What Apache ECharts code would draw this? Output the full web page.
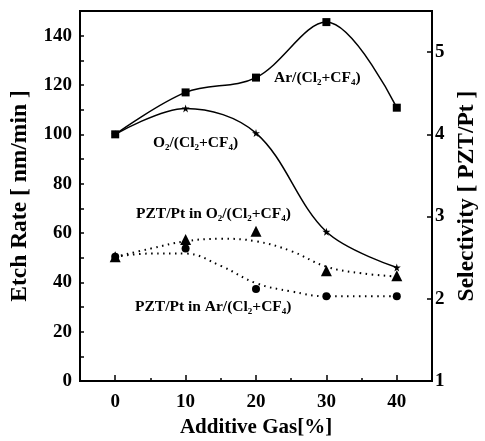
<!DOCTYPE html>
<html><head><meta charset="utf-8">
<script src="https://cdn.jsdelivr.net/npm/echarts@6/dist/echarts.min.js"></script>
<style>html,body{margin:0;padding:0;background:#fff}#c{width:485px;height:441px}</style>
</head><body><div id="c"></div>
<script>
// ---- data ----
const gas = [0, 10, 20, 30, 40];
const etchAr = [100, 117, 123, 145.5, 110.8];
const etchO2 = [100, 110.5, 100.5, 60.5, 46];
const selO2 = [2.51, 2.72, 2.82, 2.34, 2.28];
const selAr = [2.51, 2.61, 2.12, 2.03, 2.03];
// dotted trend curves
const fitGas = [0, 5, 10, 15, 20, 25, 30, 35, 40];
const fitSelO2 = [2.51, 2.61, 2.70, 2.73, 2.70, 2.58, 2.39, 2.31, 2.27];
const fitSelAr = [2.51, 2.55, 2.55, 2.40, 2.19, 2.09, 2.03, 2.03, 2.03];
const xTickLabels = [0, 10, 20, 30, 40];
const xMinorTicks = [5, 15, 25, 35];
const leftTickLabels = [0, 20, 40, 60, 80, 100, 120, 140];
const rightTickLabels = [1, 2, 3, 4, 5];

const pairs = (xs, ys) => xs.map((x, i) => [x, ys[i]]);
const FONT = '"Liberation Serif", "DejaVu Serif", serif';
const star = 'path://M50,0 L61,35 L98,35 L68,57 L79,91 L50,70 L21,91 L32,57 L2,35 L39,35 Z';

const chart = echarts.init(document.getElementById('c'), null, {renderer: 'canvas'});
const axisLabelStyle = {color: '#000', fontFamily: FONT, fontWeight: 'bold', fontSize: 19};
const rich = {
  b: {fontFamily: FONT, fontWeight: 'bold', fontSize: 15.5, color: '#000'},
  s: {fontFamily: FONT, fontWeight: 'bold', fontSize: 9, color: '#000', padding: [9, 0, 0, 0]}
};
function lbl(x, y, text) {
  return {type: 'text', left: x, top: y, style: {rich: rich, text: text}};
}
chart.setOption({
  animation: false,
  backgroundColor: '#fff',
  grid: {left: 80, right: 53, top: 11, bottom: 60, containLabel: false, outerBoundsMode: 'none',
         show: true, borderColor: '#000', borderWidth: 2},
  xAxis: [{
    type: 'value', min: -5, max: 45, interval: 5,
    name: 'Additive Gas[%]', nameLocation: 'middle', nameGap: 34,
    nameTextStyle: {color: '#000', fontFamily: FONT, fontWeight: 'bold', fontSize: 21},
    axisLine: {onZero: false, lineStyle: {color: '#000', width: 2}},
    axisTick: {inside: true, length: 6, lineStyle: {color: '#000', width: 1.5}, customValues: xTickLabels},
    axisLabel: Object.assign({margin: 12, customValues: xTickLabels}, axisLabelStyle),
    splitLine: {show: false}
  }, {
    type: 'value', min: -5, max: 45, interval: 5, position: 'bottom',
    axisLine: {show: false, onZero: false},
    axisTick: {inside: true, length: 3, lineStyle: {color: '#000', width: 1.5}, customValues: xMinorTicks},
    axisLabel: {show: false}, splitLine: {show: false}
  }],
  yAxis: [{
    type: 'value', min: 0, max: 150, interval: 10, position: 'left',
    name: 'Etch Rate [ nm/min ]', nameLocation: 'middle', nameGap: 48,
    nameTextStyle: {color: '#000', fontFamily: FONT, fontWeight: 'bold', fontSize: 23.5},
    axisLine: {show: true, onZero: false, lineStyle: {color: '#000', width: 2}},
    axisTick: {inside: true, length: 4, lineStyle: {color: '#000', width: 1.5}},
    axisLabel: Object.assign({margin: 8, customValues: leftTickLabels}, axisLabelStyle),
    splitLine: {show: false}
  }, {
    type: 'value', min: 1, max: 5.5, interval: 0.5, position: 'right',
    name: 'Selectivity [ PZT/Pt ]', nameLocation: 'middle', nameGap: 23, nameRotate: 90,
    nameTextStyle: {color: '#000', fontFamily: FONT, fontWeight: 'bold', fontSize: 23.5},
    axisLine: {show: true, onZero: false, lineStyle: {color: '#000', width: 2}},
    axisTick: {inside: true, length: 5, lineStyle: {color: '#000', width: 1.5}, customValues: rightTickLabels},
    axisLabel: Object.assign({margin: 3, customValues: rightTickLabels}, axisLabelStyle),
    splitLine: {show: false}
  }],
  series: [
    {type: 'line', name: 'Ar', data: pairs(gas, etchAr), smooth: 0.35, yAxisIndex: 0,
     symbol: 'rect', symbolSize: 8, itemStyle: {color: '#000', opacity: 1}, lineStyle: {color: '#000', width: 1.5}, z: 5},
    {type: 'line', name: 'O2', data: pairs(gas, etchO2), smooth: 0.35, yAxisIndex: 0,
     symbol: star, symbolSize: 8, itemStyle: {color: '#000', opacity: 1}, lineStyle: {color: '#000', width: 1.5}, z: 5},
    {type: 'line', name: 'fitO2', data: pairs(fitGas, fitSelO2), smooth: 0.4, yAxisIndex: 1,
     symbol: 'none', lineStyle: {color: '#000', width: 2, type: [1.5, 4.5]}},
    {type: 'line', name: 'fitAr', data: pairs(fitGas, fitSelAr), smooth: 0.4, yAxisIndex: 1,
     symbol: 'none', lineStyle: {color: '#000', width: 2, type: [1.5, 4.5]}},
    {type: 'scatter', name: 'selAr', data: pairs(gas, selAr), yAxisIndex: 1,
     symbol: 'circle', symbolSize: 8, itemStyle: {color: '#000', opacity: 1}, z: 6},
    {type: 'scatter', name: 'selO2', data: pairs(gas, selO2), yAxisIndex: 1,
     symbol: 'triangle', symbolSize: 11, itemStyle: {color: '#000', opacity: 1}, z: 7}
  ],
  graphic: [
    lbl(274, 70, '{b|Ar/(Cl}{s|2}{b|+CF}{s|4}{b|)}'),
    lbl(153, 135, '{b|O}{s|2}{b|/(Cl}{s|2}{b|+CF}{s|4}{b|)}'),
    lbl(136, 206, '{b|PZT/Pt in O}{s|2}{b|/(Cl}{s|2}{b|+CF}{s|4}{b|)}'),
    lbl(135, 299, '{b|PZT/Pt in Ar/(Cl}{s|2}{b|+CF}{s|4}{b|)}')
  ]
});
</script></body></html>
